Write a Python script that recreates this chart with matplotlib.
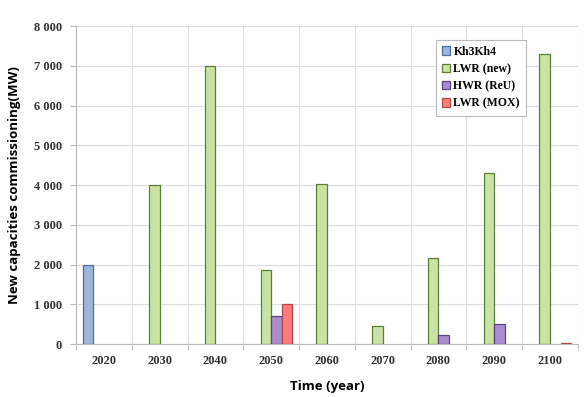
import numpy as np
import matplotlib
matplotlib.use("Agg")
import matplotlib.pyplot as plt
from matplotlib.ticker import FuncFormatter, MultipleLocator

years = ["2020", "2030", "2040", "2050", "2060", "2070", "2080", "2090", "2100"]
kh3kh4 = [2000, 0, 0, 0, 0, 0, 0, 0, 0]
lwr_new = [0, 4000, 7000, 1860, 4020, 460, 2160, 4300, 7300]
hwr_reu = [0, 0, 0, 700, 0, 0, 220, 500, 0]
lwr_mox = [0, 0, 0, 1000, 0, 0, 0, 0, 15]

series = [
    ("Kh3Kh4", kh3kh4, "#9BB7DC", "#4F6E9E"),
    ("LWR (new)", lwr_new, "#C8E3A3", "#5C7F38"),
    ("HWR (ReU)", hwr_reu, "#A98BD0", "#5A4680"),
    ("LWR (MOX)", lwr_mox, "#FF7B7B", "#B04848"),
]

fig = plt.figure(figsize=(5.86, 3.97), dpi=100)
ax = fig.add_axes([0.1297, 0.1335, 0.8563, 0.801])

x = np.arange(len(years))
w = 0.19
for i, (name, vals, fc, ec) in enumerate(series):
    v = np.array(vals, dtype=float)
    v[v == 0] = np.nan  # no flat outline for empty slots
    ax.bar(x + (i - 1.5) * w, v, w, color=fc, edgecolor=ec, linewidth=0.9,
           label=name, zorder=3)

ax.set_xlim(-0.5, len(years) - 0.5)
ax.set_ylim(0, 8000)
ax.yaxis.set_major_locator(MultipleLocator(1000))
ax.yaxis.set_major_formatter(FuncFormatter(lambda v, p: f"{int(v):,}".replace(",", " ")))
ax.set_xticks(x)
ax.set_xticks(np.arange(-0.5, len(years)), minor=True)
ax.set_xticklabels(years)
ax.tick_params(axis="x", which="major", length=0, pad=8)
ax.tick_params(axis="x", which="minor", length=4, color="#BBBBBB")
ax.tick_params(axis="y", length=4, color="#BBBBBB", pad=6)
for lab in ax.get_xticklabels() + ax.get_yticklabels():
    lab.set_fontfamily("Liberation Serif")
    lab.set_fontweight("bold")
    lab.set_fontsize(9)
    lab.set_color("#333333")

ax.grid(True, axis="y", color="#DDDDDD", linewidth=0.8, zorder=0)
ax.grid(True, axis="x", which="minor", color="#DDDDDD", linewidth=0.8, zorder=0)
for s in ["top", "right"]:
    ax.spines[s].set_visible(False)
for s in ["left", "bottom"]:
    ax.spines[s].set_color("#BBBBBB")

ax.set_ylabel("New capacities commissioning(MW)", fontfamily="Open Sans",
              fontweight="bold", fontsize=9.5, labelpad=9)
ax.set_xlabel("Time (year)", fontfamily="Open Sans", fontweight="bold",
              fontsize=9.5, labelpad=9)

leg = ax.legend(loc="upper left", bbox_to_anchor=(0.705, 0.975),
                prop={"family": "Liberation Serif", "weight": "bold", "size": 8.5},
                handlelength=0.7, handleheight=0.7, handletextpad=0.3,
                labelspacing=0.45, borderpad=0.5, fancybox=False,
                framealpha=1, edgecolor="#BBBBBB")
leg.get_frame().set_linewidth(0.8)

fig.savefig("out.png", dpi=100)
